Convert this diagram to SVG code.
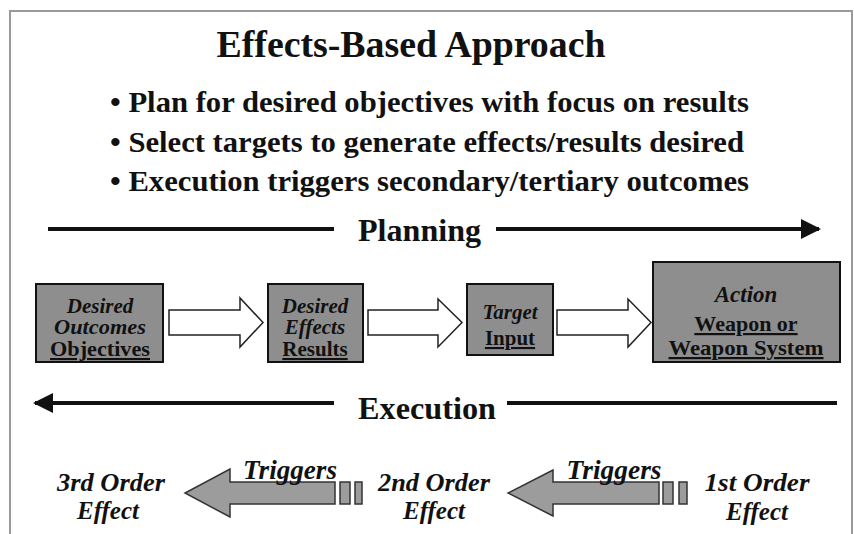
<svg xmlns="http://www.w3.org/2000/svg" width="854" height="534" viewBox="0 0 854 534">
<defs>
<style>
text{font-family:"Liberation Serif","Times New Roman",serif;font-weight:bold;fill:#111}
.it{font-style:italic}
.box{fill:#8e8e8e;stroke:#111;stroke-width:2}
.hollow{fill:#fff;stroke:#222;stroke-width:1.5;stroke-linejoin:miter}
.big{fill:#9c9c9c;stroke:#333;stroke-width:1.5}
.bar{stroke:#111;stroke-width:4;fill:none}
.u{text-decoration:underline}
</style>
<marker id="ah" viewBox="0 0 10 10" refX="9" refY="5" markerWidth="5" markerHeight="5" markerUnits="strokeWidth" orient="auto-start-reverse">
<path d="M0,0 L10,5 L0,10 z" fill="#111"/>
</marker>
</defs>
<rect width="854" height="534" fill="#fff"/>
<path d="M10,534 V11 H852 V534" fill="none" stroke="#9a9a9a" stroke-width="2"/>

<g id="title">
<text x="411" y="57" font-size="37" text-anchor="middle" textLength="389" lengthAdjust="spacingAndGlyphs">Effects-Based Approach</text>
</g>
<g id="bullets" font-size="29">
<text x="110" y="112" textLength="639" lengthAdjust="spacingAndGlyphs">• Plan for desired objectives with focus on results</text>
<text x="110" y="152" textLength="634" lengthAdjust="spacingAndGlyphs">• Select targets to generate effects/results desired</text>
<text x="110" y="191" textLength="639" lengthAdjust="spacingAndGlyphs">• Execution triggers secondary/tertiary outcomes</text>
</g>

<g id="connectors">
<line class="bar" x1="48" y1="229" x2="334" y2="229"/>
<line class="bar" x1="496" y1="229" x2="819" y2="229" marker-end="url(#ah)"/>
<line class="bar" x1="35" y1="403" x2="334" y2="403" marker-start="url(#ah)"/>
<line class="bar" x1="507" y1="403" x2="837" y2="403"/>
<path class="hollow" d="M169,310 H240 V298 L263,322.5 L240,347 V335 H169 Z"/>
<path class="hollow" d="M368,310 H438 V299 L462,322.5 L438,347 V335 H368 Z"/>
<path class="hollow" d="M557,310 H628 V299 L651,322.5 L628,347 V335 H557 Z"/>
<g id="trig1">
<path class="big" d="M335,482 H230 V469 L185,493 L230,517 V504 H335 Z"/>
<rect class="big" x="340" y="482" width="10" height="22"/>
<rect class="big" x="355" y="482" width="7" height="22"/>
<text class="it" x="290" y="479" font-size="27" text-anchor="middle" textLength="94" lengthAdjust="spacingAndGlyphs">Triggers</text>
</g>
<g id="trig2">
<path class="big" d="M659,482 H553 V470 L508,493 L553,516 V504 H659 Z"/>
<rect class="big" x="663" y="482" width="10" height="22"/>
<rect class="big" x="679" y="482" width="8" height="22"/>
<text class="it" x="614" y="479" font-size="27" text-anchor="middle" textLength="95" lengthAdjust="spacingAndGlyphs">Triggers</text>
</g>
</g>

<g id="planning">
<text x="358" y="241" font-size="32" textLength="123" lengthAdjust="spacingAndGlyphs">Planning</text>
</g>
<g id="execution">
<text x="358" y="419" font-size="32" textLength="138" lengthAdjust="spacingAndGlyphs">Execution</text>
</g>

<g id="node-outcomes">
<rect class="box" x="36" y="284" width="127" height="78"/>
<text x="100" y="313" font-size="21" text-anchor="middle" class="it">Desired</text>
<text x="100" y="334" font-size="21" text-anchor="middle" class="it" textLength="92" lengthAdjust="spacingAndGlyphs">Outcomes</text>
<text x="100" y="356" font-size="21" text-anchor="middle" class="u" textLength="100" lengthAdjust="spacingAndGlyphs">Objectives</text>
</g>
<g id="node-effects">
<rect class="box" x="268" y="284" width="95" height="78"/>
<text x="315" y="313" font-size="21" text-anchor="middle" class="it">Desired</text>
<text x="315" y="334" font-size="21" text-anchor="middle" class="it">Effects</text>
<text x="315" y="356" font-size="21" text-anchor="middle" class="u">Results</text>
</g>
<g id="node-target">
<rect class="box" x="467" y="284" width="86" height="71"/>
<text x="510" y="319" font-size="21" text-anchor="middle" class="it">Target</text>
<text x="510" y="345" font-size="21" text-anchor="middle" class="u">Input</text>
</g>
<g id="node-action">
<rect class="box" x="653" y="262" width="187" height="100"/>
<text x="746" y="302" font-size="23" text-anchor="middle" class="it">Action</text>
<text x="746" y="331" font-size="22" text-anchor="middle" class="u">Weapon or</text>
<text x="746" y="355" font-size="22" text-anchor="middle" class="u" textLength="155" lengthAdjust="spacingAndGlyphs">Weapon System</text>
</g>

<g id="node-3rd">
<text x="111" y="491" font-size="25" text-anchor="middle" class="it" textLength="108" lengthAdjust="spacingAndGlyphs">3rd Order</text>
<text x="108" y="519" font-size="25" text-anchor="middle" class="it">Effect</text>
</g>
<g id="node-2nd">
<text x="434" y="491" font-size="25" text-anchor="middle" class="it" textLength="112" lengthAdjust="spacingAndGlyphs">2nd Order</text>
<text x="434" y="519" font-size="25" text-anchor="middle" class="it">Effect</text>
</g>
<g id="node-1st">
<text x="757" y="491" font-size="25" text-anchor="middle" class="it" textLength="105" lengthAdjust="spacingAndGlyphs">1st Order</text>
<text x="757" y="520" font-size="25" text-anchor="middle" class="it">Effect</text>
</g>
</svg>
